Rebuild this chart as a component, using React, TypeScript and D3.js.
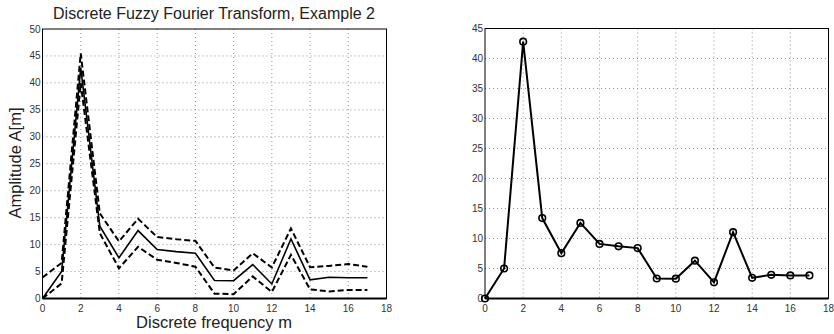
import React, { useEffect, useRef } from 'react';
import * as d3 from 'd3';

// discrete frequency index m
const freq = [0, 1, 2, 3, 4, 5, 6, 7, 8, 9, 10, 11, 12, 13, 14, 15, 16, 17];
// crisp amplitude A[m]
const amplitude = [0, 5, 42.8, 13.4, 7.55, 12.6, 9.1, 8.7, 8.4, 3.33, 3.3, 6.3, 2.7, 11.05, 3.45, 3.95, 3.85, 3.85];
// fuzzy upper and lower bounds
const upperBound = [3.9, 6.6, 45.5, 15.8, 10.6, 14.8, 11.4, 11.0, 10.7, 5.75, 5.2, 8.4, 5.75, 13.0, 5.8, 6.05, 6.4, 5.9];
const lowerBound = [0, 2.8, 40, 12.1, 5.6, 9.6, 7.2, 6.6, 5.9, 0.9, 0.8, 4.1, 1.2, 8.1, 1.7, 1.3, 1.6, 1.6];

const xTicks = [0, 2, 4, 6, 8, 10, 12, 14, 16, 18];
const yTicksLeft = [0, 5, 10, 15, 20, 25, 30, 35, 40, 45, 50];
const yTicksRight = [0, 5, 10, 15, 20, 25, 30, 35, 40, 45];

const FONT = '"Liberation Sans", Arial, Helvetica, sans-serif';

type Panel = {
  x0: number; x1: number; y0: number; y1: number;
  yMax: number; yTicks: number[];
};

function drawFrame(svg: d3.Selection<SVGSVGElement, unknown, null, undefined>, p: Panel) {
  const x = d3.scaleLinear().domain([0, 18]).range([p.x0, p.x1]);
  const y = d3.scaleLinear().domain([0, p.yMax]).range([p.y1, p.y0]);
  const g = svg.append('g');

  // grid
  g.selectAll('line.gx')
    .data(xTicks.filter(t => t > 0 && t < 18))
    .enter().append('line')
    .attr('x1', d => x(d)).attr('x2', d => x(d))
    .attr('y1', p.y0).attr('y2', p.y1)
    .attr('stroke', '#777').attr('stroke-width', 0.8)
    .attr('stroke-dasharray', '1,3');
  g.selectAll('line.gy')
    .data(p.yTicks.filter(t => t > 0 && t < p.yMax))
    .enter().append('line')
    .attr('y1', d => y(d)).attr('y2', d => y(d))
    .attr('x1', p.x0).attr('x2', p.x1)
    .attr('stroke', '#777').attr('stroke-width', 0.8)
    .attr('stroke-dasharray', '1,3');

  // box
  g.append('rect')
    .attr('x', p.x0).attr('y', p.y0)
    .attr('width', p.x1 - p.x0).attr('height', p.y1 - p.y0)
    .attr('fill', 'none').attr('stroke', '#000').attr('stroke-width', 1);
  g.append('line')
    .attr('x1', p.x0).attr('x2', p.x1)
    .attr('y1', p.y1).attr('y2', p.y1)
    .attr('stroke', '#000').attr('stroke-width', 2.2);

  // tick labels
  g.selectAll('text.tx')
    .data(xTicks)
    .enter().append('text')
    .attr('x', d => x(d)).attr('y', p.y1 + 13)
    .attr('text-anchor', 'middle')
    .attr('font-family', FONT).attr('font-size', 10).attr('fill', '#333')
    .text(d => d);
  g.selectAll('text.ty')
    .data(p.yTicks)
    .enter().append('text')
    .attr('x', p.x0 - 2).attr('y', d => y(d) + 3.5)
    .attr('text-anchor', 'end')
    .attr('font-family', FONT).attr('font-size', 10).attr('fill', '#333')
    .text(d => d);

  return { x, y, g };
}

const App = () => {
  const ref = useRef<SVGSVGElement>(null);

  useEffect(() => {
    const svg = d3.select(ref.current!);
    svg.selectAll('*').remove();

    // left panel: fuzzy transform with bounds
    const left = drawFrame(svg, { x0: 42.5, x1: 386.5, y0: 29, y1: 298.5, yMax: 50, yTicks: yTicksLeft });
    const lineL = d3.line<number>().x((_, i) => left.x(freq[i])).y(d => left.y(d));
    [upperBound, lowerBound].forEach(s => {
      left.g.append('path')
        .attr('d', lineL(s))
        .attr('fill', 'none').attr('stroke', '#000').attr('stroke-width', 2)
        .attr('stroke-dasharray', '6,3');
    });
    left.g.append('path')
      .attr('d', lineL(amplitude))
      .attr('fill', 'none').attr('stroke', '#000').attr('stroke-width', 1.6);

    svg.append('text')
      .attr('x', 214).attr('y', 19)
      .attr('text-anchor', 'middle')
      .attr('font-family', FONT).attr('font-size', 16).attr('fill', '#222')
      .text('Discrete Fuzzy Fourier Transform, Example 2');
    svg.append('text')
      .attr('x', 214).attr('y', 328)
      .attr('text-anchor', 'middle')
      .attr('font-family', FONT).attr('font-size', 16.5).attr('fill', '#222')
      .text('Discrete frequency m');
    svg.append('text')
      .attr('transform', 'translate(21,163) rotate(-90)')
      .attr('text-anchor', 'middle')
      .attr('font-family', FONT).attr('font-size', 16.5).attr('fill', '#222')
      .text('Amplitude A[m]');

    // right panel: crisp amplitude with markers
    const right = drawFrame(svg, { x0: 485, x1: 828.5, y0: 28.5, y1: 298.5, yMax: 45, yTicks: yTicksRight });
    const lineR = d3.line<number>().x((_, i) => right.x(freq[i])).y(d => right.y(d));
    right.g.append('path')
      .attr('d', lineR(amplitude))
      .attr('fill', 'none').attr('stroke', '#000').attr('stroke-width', 2);
    right.g.selectAll('circle')
      .data(amplitude)
      .enter().append('circle')
      .attr('cx', (_, i) => right.x(freq[i]))
      .attr('cy', d => right.y(d))
      .attr('r', 3.3)
      .attr('fill', 'none').attr('stroke', '#000').attr('stroke-width', 1.6);
  }, []);

  return (
    <svg
      ref={ref}
      width={834}
      height={334}
      style={{ position: 'absolute', left: 0, top: 0, background: '#fff' }}
    />
  );
};

export default App;
